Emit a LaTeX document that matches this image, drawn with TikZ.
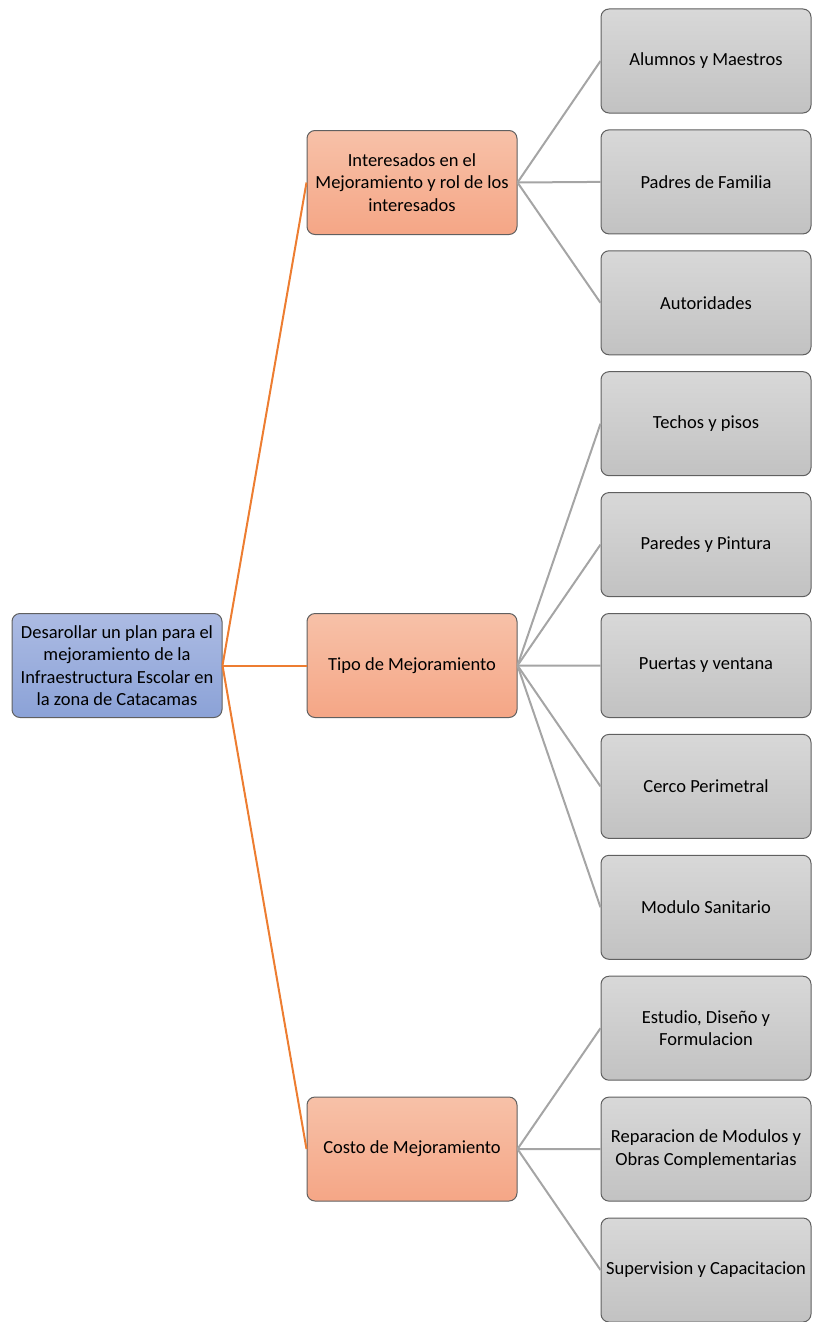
\documentclass[tikz,border=0pt]{standalone}
\usepackage{fontspec}
\setmainfont{Carlito}

\definecolor{rootTop}{RGB}{172,187,227}
\definecolor{rootBottom}{RGB}{139,162,215}
\definecolor{midTop}{RGB}{247,193,168}
\definecolor{midBottom}{RGB}{245,166,134}
\definecolor{leafTop}{RGB}{216,216,216}
\definecolor{leafBottom}{RGB}{194,194,194}
\definecolor{boxline}{RGB}{96,96,96}
\definecolor{orangeline}{RGB}{237,125,49}
\definecolor{grayline}{RGB}{165,165,165}

\tikzset{
    box/.style={draw=boxline, line width=1pt, rounded corners=8pt,
        minimum width=210pt, minimum height=104pt, inner sep=2pt,
        align=center, font=\fontsize{18.5}{22.5}\selectfont},
    rootbox/.style={box, top color=rootTop, bottom color=rootBottom},
    midbox/.style={box, top color=midTop, bottom color=midBottom},
    leafbox/.style={box, top color=leafTop, bottom color=leafBottom},
    mainlink/.style={draw=orangeline, line width=2pt},
    sublink/.style={draw=grayline, line width=2pt}
}

\begin{document}
\begin{tikzpicture}[x=1pt,y=-1pt]
    \useasboundingbox (0,0) rectangle (812,1322);

    % root of the plan
    \node[rootbox] (plan) at (117,665.5) {Desarollar un plan para el\\mejoramiento de la\\Infraestructura Escolar en\\la zona de Catacamas};

    % three main branches
    \node[midbox] (interesados) at (412,182.5) {Interesados en el\\Mejoramiento y rol de los\\interesados};
    \node[midbox] (tipo) at (412,665.5) {Tipo de Mejoramiento};
    \node[midbox] (costo) at (412,1149) {Costo de Mejoramiento};

    % leaves, one every 120.9 px
    \foreach \i/\name/\txt in {
        0/alumnos/{Alumnos y Maestros},
        1/padres/{Padres de Familia},
        2/autoridades/{Autoridades},
        3/techos/{Techos y pisos},
        4/paredes/{Paredes y Pintura},
        5/puertas/{Puertas y ventana},
        6/cerco/{Cerco Perimetral},
        7/modulo/{Modulo Sanitario},
        8/estudio/{Estudio, Diseño y\\Formulacion},
        9/reparacion/{Reparacion de Modulos y\\Obras Complementarias},
        10/supervision/{Supervision y Capacitacion}} {
        \node[leafbox] (\name) at (706,61+120.9*\i) {\txt};
    }

    % orange links from the root
    \foreach \m in {interesados,tipo,costo}
        \draw[mainlink] (plan.east) -- (\m.west);

    % gray links to the leaves
    \foreach \l in {alumnos,padres,autoridades}
        \draw[sublink] (interesados.east) -- (\l.west);
    \foreach \l in {techos,paredes,puertas,cerco,modulo}
        \draw[sublink] (tipo.east) -- (\l.west);
    \foreach \l in {estudio,reparacion,supervision}
        \draw[sublink] (costo.east) -- (\l.west);
\end{tikzpicture}
\end{document}
